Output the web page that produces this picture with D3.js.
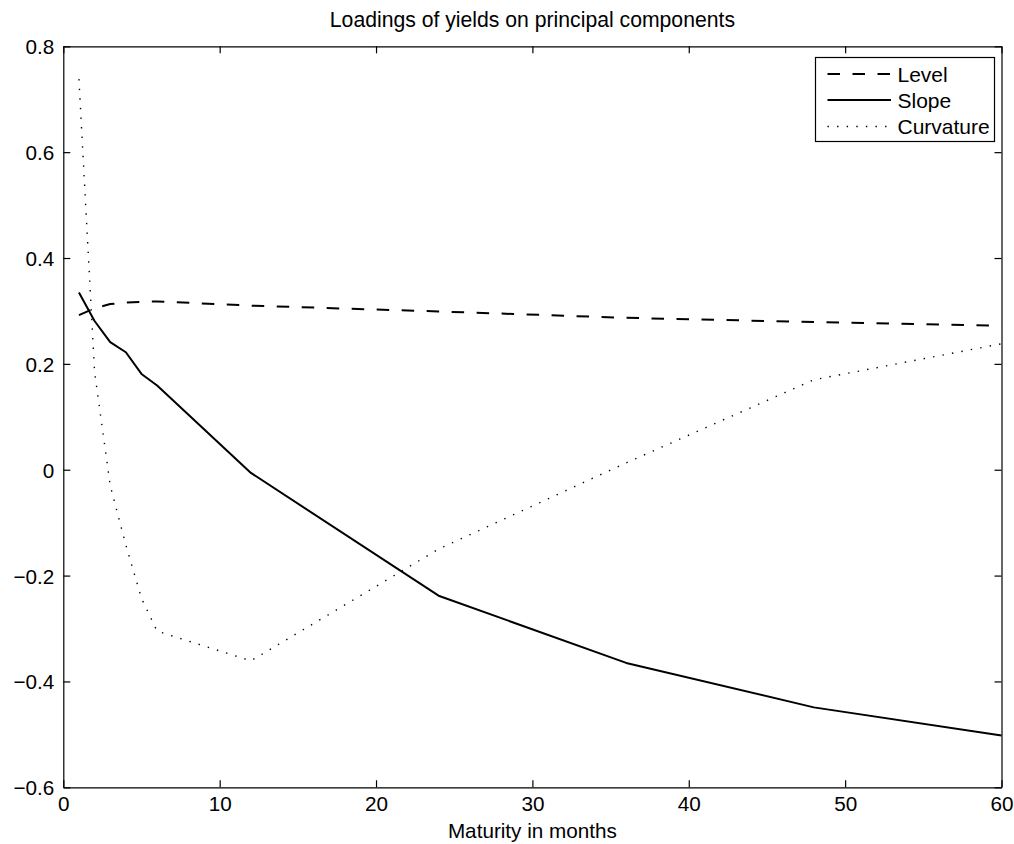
<!DOCTYPE html>
<html>
<head>
<meta charset="utf-8">
<script src="https://cdn.jsdelivr.net/npm/d3@7"></script>
<style>
  html, body { margin: 0; padding: 0; background: #fff; }
  svg { display: block; font-family: "Liberation Sans", Arial, Helvetica, sans-serif; }
</style>
</head>
<body>
<svg id="chart" width="1014" height="844"></svg>
<script>
// ---- Data ----
const maturities = [1, 2, 3, 4, 5, 6, 12, 24, 36, 48, 60];
const level      = [0.292, 0.305, 0.313, 0.316, 0.317, 0.318, 0.310, 0.299, 0.287, 0.279, 0.272];
const slope      = [0.335, 0.281, 0.241, 0.222, 0.181, 0.159, -0.006, -0.238, -0.365, -0.449, -0.502];
const curvature  = [0.738, 0.185, -0.030, -0.142, -0.243, -0.305, -0.361, -0.150, 0.013, 0.170, 0.238];
const xTicks = [0, 10, 20, 30, 40, 50, 60];
const yTicks = [-0.6, -0.4, -0.2, 0, 0.2, 0.4, 0.6, 0.8];
const seriesNames = ["Level", "Slope", "Curvature"];
const titleText = "Loadings of yields on principal components";
const xLabelText = "Maturity in months";

// ---- Layout ----
const svg = d3.select("#chart");
const L = 63.3, R = 1001.5, T = 46.3, B = 787.3;
const x = d3.scaleLinear().domain([0, 60]).range([L, R]);
const y = d3.scaleLinear().domain([-0.6, 0.8]).range([B, T]);
const fs = 20.7;

const fmtY = v => (v === 0 ? "0" : (v < 0 ? "\u2212" + Math.abs(v).toFixed(1) : v.toFixed(1)));

// axes (inward ticks)
const gB = svg.append("g").attr("transform", `translate(0,${B})`)
  .call(d3.axisBottom(x).tickValues(xTicks).tickSizeInner(-7).tickSizeOuter(0).tickPadding(9).tickFormat(d3.format("d")));
const gT = svg.append("g").attr("transform", `translate(0,${T})`)
  .call(d3.axisTop(x).tickValues(xTicks).tickSizeInner(-7).tickSizeOuter(0).tickFormat(""));
const gL = svg.append("g").attr("transform", `translate(${L},0)`)
  .call(d3.axisLeft(y).tickValues(yTicks).tickSizeInner(-7).tickSizeOuter(0).tickPadding(9).tickFormat(fmtY));
const gR = svg.append("g").attr("transform", `translate(${R},0)`)
  .call(d3.axisRight(y).tickValues(yTicks).tickSizeInner(-7).tickSizeOuter(0).tickFormat(""));

[gB, gT, gL, gR].forEach(g => {
  g.selectAll("path.domain").attr("stroke", "#000").attr("stroke-width", 1.2);
  g.selectAll(".tick line").attr("stroke", "#000").attr("stroke-width", 1.2);
  g.selectAll(".tick text").attr("fill", "#000").attr("font-size", fs)
    .attr("font-family", '"Liberation Sans", Arial, Helvetica, sans-serif');
});
gL.selectAll(".tick text").attr("dy", "0.36em");

// series
const line = d3.line().x(d => x(d[0])).y(d => y(d[1]));
const styles = {
  Level:     { dash: "12.5,12.5", width: 2 },
  Slope:     { dash: null, width: 2 },
  Curvature: { dash: "1.4,8.2", width: 1.4 }
};
const seriesData = { Level: level, Slope: slope, Curvature: curvature };

seriesNames.forEach(name => {
  const pts = maturities.map((m, i) => [m, seriesData[name][i]]);
  svg.append("path")
    .datum(pts)
    .attr("d", line)
    .attr("fill", "none")
    .attr("stroke", "#000")
    .attr("stroke-width", styles[name].width)
    .attr("stroke-linejoin", "round")
    .attr("stroke-dasharray", styles[name].dash);
});

// title and x label
svg.append("text").attr("x", (L + R) / 2).attr("y", 27).attr("text-anchor", "middle")
  .attr("font-size", 21.2).attr("fill", "#000").text(titleText);
svg.append("text").attr("x", (L + R) / 2).attr("y", 838).attr("text-anchor", "middle")
  .attr("font-size", fs).attr("fill", "#000").text(xLabelText);

// legend
const lg = svg.append("g");
lg.append("rect").attr("x", 815.5).attr("y", 57.5).attr("width", 179).attr("height", 84)
  .attr("fill", "#fff").attr("stroke", "#000").attr("stroke-width", 1.2);
const legendY = [74, 100, 126.5];
seriesNames.forEach((name, i) => {
  lg.append("line").attr("x1", 827.5).attr("x2", 891).attr("y1", legendY[i]).attr("y2", legendY[i])
    .attr("stroke", "#000").attr("stroke-width", styles[name].width)
    .attr("stroke-dasharray", styles[name].dash);
  lg.append("text").attr("x", 897.5).attr("y", legendY[i] + 7.5)
    .attr("font-size", 21).attr("fill", "#000").text(name);
});
</script>
</body>
</html>
